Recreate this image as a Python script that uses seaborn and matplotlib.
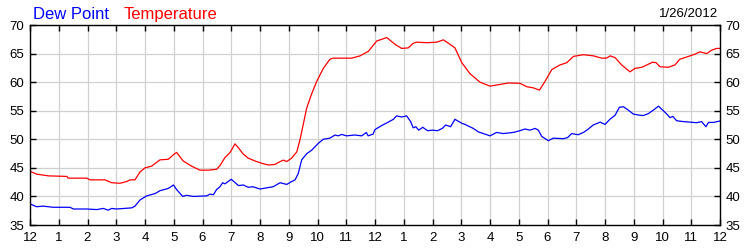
import matplotlib
matplotlib.use("Agg")
import matplotlib.pyplot as plt
import seaborn as sns
import pandas as pd

temp_hours = [0.0, 0.23, 0.64, 1.28, 1.33, 1.97, 2.09, 2.61, 2.84, 3.13, 3.36, 3.48, 3.65, 3.83,
              4.0, 4.23, 4.52, 4.81, 4.99, 5.1, 5.22, 5.33, 5.62, 5.91, 6.2, 6.49, 6.61, 6.78,
              6.96, 7.13, 7.25, 7.42, 7.59, 7.83, 8.06, 8.29, 8.52, 8.7, 8.81, 8.93, 9.1, 9.28,
              9.39, 9.5, 9.62, 9.8, 9.97, 10.2, 10.43, 10.54, 11.19, 11.48, 11.77, 12.06, 12.41,
              12.7, 12.93, 13.16, 13.33, 13.45, 13.8, 14.15, 14.38, 14.67, 14.78, 15.02, 15.3,
              15.65, 16.0, 16.23, 16.64, 17.04, 17.28, 17.51, 17.72, 17.91, 18.15, 18.43, 18.67,
              18.9, 19.25, 19.6, 19.88, 20.05, 20.18, 20.35, 20.58, 20.87, 21.04, 21.28, 21.45,
              21.66, 21.78, 21.91, 22.2, 22.43, 22.6, 22.9, 23.13, 23.3, 23.54, 23.71, 23.88, 24.0]
temp_values = [44.4, 43.9, 43.6, 43.5, 43.2, 43.2, 42.9, 42.9, 42.4, 42.3, 42.6, 42.9, 42.9, 44.3,
               45.0, 45.3, 46.4, 46.5, 47.3, 47.7, 46.9, 46.2, 45.3, 44.6, 44.6, 44.75, 45.4, 46.8,
               47.7, 49.2, 48.5, 47.4, 46.7, 46.2, 45.8, 45.5, 45.6, 46.1, 46.35, 46.1, 46.7, 47.8,
               49.9, 52.5, 55.4, 58.0, 60.1, 62.4, 64.0, 64.2, 64.2, 64.6, 65.4, 67.2, 67.8,
               66.6, 65.9, 66.0, 66.8, 67.0, 66.9, 67.0, 67.4, 66.4, 66.0, 63.4, 61.5,
               60.0, 59.3, 59.5, 59.85, 59.8, 59.2, 59.0, 58.6, 60.1, 62.2, 63.0, 63.4,
               64.5, 64.8, 64.6, 64.2, 64.2, 64.6, 64.3, 63.0, 61.8, 62.4, 62.6, 63.0,
               63.5, 63.4, 62.7, 62.6, 63.0, 64.0, 64.5, 64.9, 65.3, 65.0, 65.6, 65.9, 65.9]

dew_hours = [0.0, 0.23, 0.46, 0.81, 1.39, 1.51, 1.97, 2.32, 2.55, 2.72, 2.84, 3.01, 3.54, 3.65,
             3.83, 4.06, 4.35, 4.52, 4.81, 4.99, 5.1, 5.31, 5.45, 5.68, 6.15, 6.26, 6.38, 6.49,
             6.61, 6.7, 6.78, 7.0, 7.25, 7.42, 7.59, 7.75, 8.0, 8.46, 8.7, 8.93, 9.1, 9.22, 9.33,
             9.45, 9.63, 9.8, 10.03, 10.2, 10.43, 10.61, 10.72, 10.84, 11.01, 11.3, 11.54, 11.7,
             11.76, 11.93, 12.0, 12.23, 12.46, 12.64, 12.75, 12.93, 13.1, 13.24, 13.33, 13.42,
             13.52, 13.66, 13.83, 14.0, 14.17, 14.34, 14.46, 14.63, 14.78, 15.02, 15.13, 15.42,
             15.59, 15.77, 16.0, 16.23, 16.46, 16.81, 17.04, 17.22, 17.39, 17.57, 17.68, 17.8,
             18.03, 18.2, 18.55, 18.7, 18.84, 19.07, 19.25, 19.37, 19.59, 19.83, 20.0, 20.17,
             20.35, 20.5, 20.64, 20.81, 20.99, 21.16, 21.33, 21.51, 21.68, 21.86, 22.03, 22.15,
             22.26, 22.36, 22.49, 22.72, 22.96, 23.19, 23.36, 23.51, 23.6, 23.77, 24.0]
dew_values = [38.7, 38.2, 38.3, 38.1, 38.1, 37.8, 37.8, 37.7, 37.9, 37.6, 37.9, 37.8, 38.0, 38.3,
              39.4, 40.1, 40.5, 41.0, 41.4, 42.0, 41.2, 40.0, 40.2, 40.0, 40.1, 40.4, 40.3, 41.2,
              41.7, 42.4, 42.2, 43.0, 41.9, 42.0, 41.6, 41.7, 41.3, 41.7, 42.4, 42.1, 42.6, 42.9, 44.0,
              46.4, 47.5, 48.1, 49.3, 50.0, 50.2, 50.75, 50.6, 50.85, 50.6, 50.75, 50.6, 51.2,
              50.6, 50.9, 51.7, 52.4, 53.0, 53.5, 54.1, 53.9, 54.1, 53.1, 52.0, 52.2,
              51.6, 52.1, 51.5, 51.6, 51.5, 51.9, 52.5, 52.2, 53.5, 52.8, 52.6, 51.9,
              51.3, 51.0, 50.6, 51.2, 51.0, 51.2, 51.5, 51.8, 51.6, 51.9, 51.6, 50.5,
              49.75, 50.2, 50.1, 50.3, 51.0, 50.8, 51.2, 51.6, 52.5, 53.0, 52.6, 53.5,
              54.2, 55.6, 55.7, 55.1, 54.4, 54.25, 54.15, 54.5, 55.1, 55.8, 55.0, 54.4,
              53.8, 54.0, 53.25, 53.1, 53.0, 52.9, 53.1, 52.2, 52.95, 52.95, 53.2]

x_tick_labels = ["12", "1", "2", "3", "4", "5", "6", "7", "8", "9", "10", "11",
                 "12", "1", "2", "3", "4", "5", "6", "7", "8", "9", "10", "11", "12"]
y_ticks = [35, 40, 45, 50, 55, 60, 65, 70]
legend_labels = ["Dew Point", "Temperature"]
date_label = "1/26/2012"

sns.set_theme(style="white")
plt.rcParams['font.family'] = ['Liberation Sans', 'DejaVu Sans']

fig = plt.figure(figsize=(7.5, 2.5), dpi=100)
ax = fig.add_axes([30/750, 25/250, 690/750, 200/250])

temp_df = pd.DataFrame({"hour": temp_hours, "value": temp_values})
dew_df = pd.DataFrame({"hour": dew_hours, "value": dew_values})

sns.lineplot(data=temp_df, x="hour", y="value", ax=ax, color="#ff0000", linewidth=0.9,
             estimator=None, sort=False)
sns.lineplot(data=dew_df, x="hour", y="value", ax=ax, color="#0000ff", linewidth=0.9,
             estimator=None, sort=False)

ax.set_xlim(0, 24)
ax.set_ylim(35, 70)
ax.set_xticks(range(25))
ax.set_xticklabels(x_tick_labels)
ax.set_yticks(y_ticks)
ax.set_xlabel("")
ax.set_ylabel("")
ax.grid(True, color="#d0d0d0", linewidth=0.9)
ax.set_axisbelow(True)
for s in ax.spines.values():
    s.set_visible(True)
    s.set_color("black")
    s.set_linewidth(1.0)
ax.tick_params(axis="both", direction="in", length=4, width=1, color="black",
               labelsize=9.5, labelcolor="black",
               top=True, bottom=True, left=True, right=True,
               labelleft=True, labelright=True)
ax.tick_params(axis="x", pad=5)
ax.tick_params(axis="y", pad=4)

fig.text(33/750, 1 - 19/250, legend_labels[0], color="#0000ff", fontsize=12, va="baseline", ha="left")
fig.text(124/750, 1 - 19/250, legend_labels[1], color="#ff0000", fontsize=12, va="baseline", ha="left")
fig.text(718/750, 1 - 17/250, date_label, color="black", fontsize=9.5, va="baseline", ha="right")

fig.savefig("out.png", dpi=100, facecolor="white")
